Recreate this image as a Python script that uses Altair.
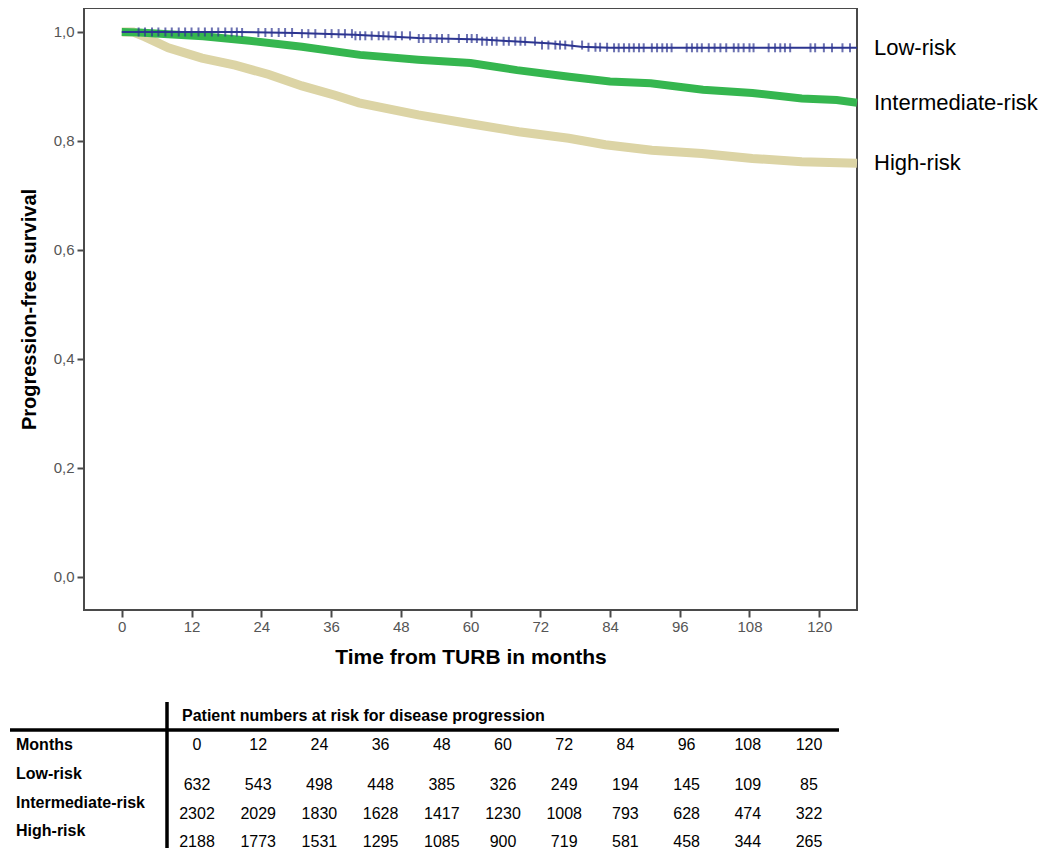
import altair as alt
import pandas as pd

FONT = "Liberation Sans"
NAVY = "#2c3590"
GREEN = "#35b64f"
BEIGE = "#dcd4a5"
AX = "#4a4a4a"

# ---- Kaplan-Meier curves ----
low_t = [0, 20, 30, 40, 51, 62, 74, 79, 84, 126.5]
low_s = [1.0, 1.0, 0.998, 0.995, 0.989, 0.986, 0.979, 0.973, 0.971, 0.971]

inter_t = [0, 3, 8, 14, 22, 31, 41, 51, 60, 68, 77, 84, 91, 100, 108.5, 117, 123, 126.5]
inter_s = [1.0, 0.999, 0.996, 0.992, 0.984, 0.973, 0.958, 0.949, 0.943, 0.930, 0.918,
           0.909, 0.906, 0.894, 0.888, 0.878, 0.875, 0.870]

high_t = [0, 2, 4, 8, 13.8, 19.5, 25.3, 31, 36.7, 40.8, 51, 59.7, 68.3, 76.9, 83.2,
          91.2, 99.8, 108.5, 117, 126.5]
high_s = [1.0, 1.0, 0.991, 0.971, 0.952, 0.939, 0.922, 0.901, 0.884, 0.870, 0.848, 0.832,
          0.817, 0.805, 0.793, 0.783, 0.777, 0.768, 0.762, 0.759]

# censoring marks of the low-risk curve: (survival level, times)
low_censor = [
    (1.000, [2.9, 4.0, 5.2, 6.3, 7.5, 8.6, 9.8, 10.9, 12.0, 13.2, 14.3, 15.5, 16.6, 17.8, 18.9, 19.8]),
    (0.999, [20.7, 23.5, 24.7, 25.8, 27.0, 28.1, 29.3]),
    (0.997, [31.0, 32.1, 33.3, 35.0, 36.1, 37.3, 38.4, 39.6]),
    (0.993, [40.2, 41.0, 41.9, 43.0, 44.2, 45.0, 45.9, 47.1, 48.2, 49.6]),
    (0.988, [51.1, 51.9, 53.1, 54.2, 55.1, 56.2, 58.0, 59.4, 60.2, 61.1]),
    (0.983, [62.0, 62.8, 63.7, 64.5, 65.7, 66.6, 67.7, 68.6, 69.4, 71.1]),
    (0.976, [72.3, 73.4, 74.6, 75.4, 76.3, 77.5, 79.2]),
    (0.972, [80.3, 81.5, 82.3, 83.5]),
    (0.971, [84.7, 85.5, 86.4, 87.3, 88.1, 89.0, 89.8, 91.2, 92.1, 93.0, 93.8, 94.6, 97.2,
             98.1, 99.0, 99.8, 101.0, 102.0, 103.0, 104.0, 105.3, 106.1, 107.0, 108.0,
             108.7, 111.3, 112.4, 113.3, 114.1, 115.0, 118.5, 119.3, 120.8, 122.2, 124.0, 125.3]),
]

groups = ["Low-risk", "Intermediate-risk", "High-risk"]
x_ticks = [0, 12, 24, 36, 48, 60, 72, 84, 96, 108, 120]
y_ticks = [0.0, 0.2, 0.4, 0.6, 0.8, 1.0]

# ---- at-risk table ----
table_title = "Patient numbers at risk for disease progression"
table_months = [0, 12, 24, 36, 48, 60, 72, 84, 96, 108, 120]
low_n = [632, 543, 498, 448, 385, 326, 249, 194, 145, 109, 85]
inter_n = [2302, 2029, 1830, 1628, 1417, 1230, 1008, 793, 628, 474, 322]
high_n = [2188, 1773, 1531, 1295, 1085, 900, 719, 581, 458, 344, 265]

# ---- build frames ----
low_df = pd.DataFrame({"t": low_t, "s": low_s})
inter_df = pd.DataFrame({"t": inter_t, "s": inter_s})
high_df = pd.DataFrame({"t": high_t, "s": high_s})
cens_df = pd.DataFrame([{"t": t, "s": s} for s, ts in low_censor for t in ts])
end_df = pd.DataFrame({
    "t": [low_t[-1], inter_t[-1], high_t[-1]],
    "s": [low_s[-1], inter_s[-1], high_s[-1]],
    "label": groups,
})

xs = alt.Scale(domain=[-6.5, 126.5], nice=False, zero=False)
ys = alt.Scale(domain=[-0.0606, 1.044], nice=False, zero=False)

xaxis = alt.Axis(values=x_ticks, title="Time from TURB in months", grid=False, domain=False,
                 tickColor=AX, tickWidth=2, tickSize=7, labelColor="#555555", labelFont=FONT,
                 labelFontSize=15, labelPadding=2, titleFont=FONT, titleFontSize=21,
                 titleFontWeight="bold", titleColor="black", titlePadding=12)
yaxis = alt.Axis(values=y_ticks, labelExpr="replace(format(datum.value, '.1f'), '.', ',')",
                 title="Progression-free survival", grid=False, domain=False,
                 tickColor=AX, tickWidth=2, tickSize=7, labelColor="#555555", labelFont=FONT,
                 labelFontSize=15, labelPadding=3, titleFont=FONT, titleFontSize=20,
                 titleFontWeight="bold", titleColor="black", titlePadding=14)

X = alt.X("t:Q", scale=xs, axis=xaxis)
Y = alt.Y("s:Q", scale=ys, axis=yaxis)

high_line = alt.Chart(high_df).mark_line(color=BEIGE, strokeWidth=9, strokeCap="butt").encode(x=X, y=Y)
inter_line = alt.Chart(inter_df).mark_line(color=GREEN, strokeWidth=8, strokeCap="butt").encode(x=X, y=Y)
low_line = alt.Chart(low_df).mark_line(color=NAVY, strokeWidth=2, strokeCap="butt").encode(x=X, y=Y)
cens = alt.Chart(cens_df).mark_tick(orient="vertical", size=9, thickness=2, color=NAVY).encode(x=X, y=Y)
labels = alt.Chart(end_df).mark_text(align="left", baseline="middle", dx=17, font=FONT,
                                     fontSize=22, color="black").encode(x=X, y=Y, text="label:N")

plot = alt.layer(high_line, inter_line, low_line, cens, labels)

# table data
rows = []
for r, (g, ns) in enumerate(zip(groups, [low_n, inter_n, high_n]), start=1):
    for m, n in zip(table_months, ns):
        rows.append({"m": m, "r": r, "n": str(n)})
tab_df = pd.DataFrame(rows)
lab_df = pd.DataFrame({"r": [1, 2, 3], "g": groups})
mon_df = pd.DataFrame({"m": table_months, "lab": [str(m) for m in table_months]})

TX = alt.Scale(domain=[0, 120], range=[113, 725])
TY = alt.Scale(domain=[1, 3], range=[777, 834])

vals = alt.Chart(tab_df).mark_text(font=FONT, fontSize=16, color="black", baseline="middle").encode(
    x=alt.X("m:Q", scale=TX, axis=None), y=alt.Y("r:Q", scale=TY, axis=None), text="n:N")
mon_vals = alt.Chart(mon_df).mark_text(font=FONT, fontSize=16, color="black", baseline="middle").encode(
    x=alt.X("m:Q", scale=TX, axis=None), y=alt.value(737), text="lab:N")
row_labs = alt.Chart(lab_df).mark_text(font=FONT, fontSize=16, fontWeight="bold", color="black",
                                       align="left", baseline="middle", dy=-11).encode(
    x=alt.value(-68), y=alt.Y("r:Q", scale=TY, axis=None), text="g:N")
mon_lab = alt.Chart(pd.DataFrame({"txt": ["Months"]})).mark_text(
    font=FONT, fontSize=16, fontWeight="bold", color="black", align="left", baseline="middle").encode(
    x=alt.value(-68), y=alt.value(737), text="txt:N")
head = alt.Chart(pd.DataFrame({"txt": [table_title]})).mark_text(
    font=FONT, fontSize=16, fontWeight="bold", color="black", align="left", baseline="middle").encode(
    x=alt.value(98), y=alt.value(708), text="txt:N")
hrule = alt.Chart(pd.DataFrame({"k": [0]})).mark_rule(color="black", strokeWidth=3.5).encode(
    x=alt.value(-74), x2=alt.value(755), y=alt.value(722))
vrule = alt.Chart(pd.DataFrame({"k": [0]})).mark_rule(color="black", strokeWidth=3.5).encode(
    x=alt.value(83), y=alt.value(694), y2=alt.value(840))

table = alt.layer(hrule, vrule, head, mon_lab, mon_vals, row_labs, vals)

chart = alt.layer(plot, table).resolve_scale(x="independent", y="independent").properties(
    width=773, height=602, padding=0
).configure_view(stroke=AX, strokeWidth=2)

chart.save("out.html", embed_options={"renderer": "svg", "actions": False})
